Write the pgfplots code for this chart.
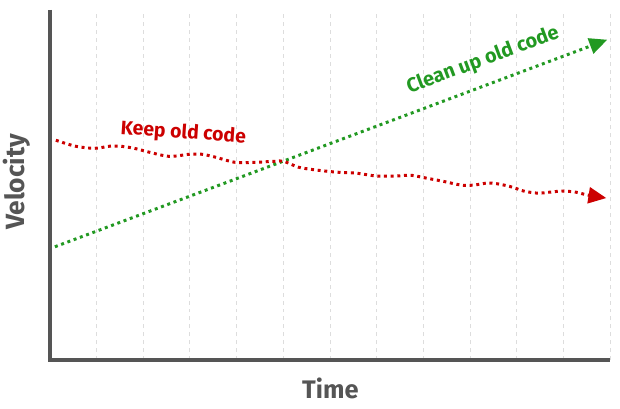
\documentclass[border=0pt]{standalone}
\usepackage{fontspec}
\setmainfont{Fira Sans}
\usepackage{pgfplots}
\usepackage{pgfplotstable}
\pgfplotsset{compat=1.18}
\usetikzlibrary{arrows.meta}

\definecolor{axisgray}{HTML}{555555}
\definecolor{keepred}{HTML}{CC0000}
\definecolor{cleangreen}{HTML}{229922}
\definecolor{gridgray}{HTML}{DDDDDD}

% Velocity when old code is kept: slowly drifting down
\pgfplotstableread{
x     y
0.13  6.28
0.55  6.11
0.96  6.05
1.28  6.11
1.51  6.11
1.81  6.05
2.13  5.94
2.56  5.82
2.99  5.88
3.26  5.88
3.54  5.80
3.97  5.65
4.39  5.65
4.82  5.68
5.01  5.68
5.33  5.51
5.71  5.43
6.14  5.37
6.57  5.34
6.99  5.26
7.42  5.26
7.74  5.28
8.06  5.20
8.42  5.11
8.81  5.00
9.08  5.00
9.38  5.06
9.62  5.03
9.91  4.94
10.15 4.83
10.45 4.77
10.72 4.80
10.98 4.83
11.26 4.80
11.51 4.72
11.92 4.63
}\keepdata

% Velocity when old code is cleaned up: steady rise
\pgfplotstableread{
x     y
0.11  3.24
11.94 9.15
}\cleandata

\begin{document}
\begin{tikzpicture}
\begin{axis}[
  scale only axis,
  width=563pt, height=352pt,
  xmin=0, xmax=12, ymin=0, ymax=10,
  axis line style={draw=none},
  xtick={1,...,12}, ytick=\empty,
  xticklabels={},
  major tick length=0pt,
  xmajorgrids,
  grid style={gridgray, line width=0.8pt, dash pattern=on 4pt off 4pt},
  clip=false,
]
  % canvas extent
  \path (rel axis cs:0,0) ++(-47pt,-48pt) rectangle ++(620pt,410pt);

  % axes
  \draw[axisgray, line width=4.5pt] (rel axis cs:0,1) -- (rel axis cs:0,0) -- (rel axis cs:1,0);

  \addplot[cleangreen, line width=3pt, dash pattern=on 3pt off 3.7pt,
           -{Triangle[length=18pt,width=16pt]}] table {\cleandata};
  \addplot[keepred, line width=3pt, dash pattern=on 3pt off 3.7pt, smooth,
           -{Triangle[length=18pt,width=16pt]}] table {\keepdata};

  \node[keepred, font=\bfseries\fontsize{19.5}{21}\selectfont, rotate=-4]
    at (axis cs:2.86,6.48) {Keep old code};
  \node[cleangreen, font=\bfseries\fontsize{20}{22}\selectfont, rotate=20.5]
    at (axis cs:9.28,8.56) {Clean up old code};

  \node[axisgray, rotate=90, font=\bfseries\fontsize{26.5}{28}\selectfont]
    at ([xshift=-33pt]axis cs:0,5.09) {Velocity};
  \node[axisgray, font=\bfseries\fontsize{25.5}{27}\selectfont]
    at ([yshift=-28pt]axis cs:6.01,0) {Time};
\end{axis}
\end{tikzpicture}
\end{document}
